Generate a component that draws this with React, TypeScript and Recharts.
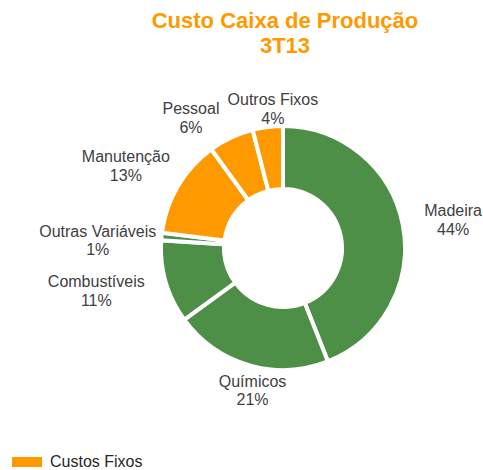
import React from "react";
import { PieChart, Pie, Cell, Legend } from "recharts";

const categories = ["Madeira", "Químicos", "Combustíveis", "Outras Variáveis", "Manutenção", "Pessoal", "Outros Fixos"];
const shares = [44, 21, 11, 1, 13, 6, 4];
const groups = ["var", "var", "var", "var", "fix", "fix", "fix"];
const titleLines = ["Custo Caixa de Produção", "3T13"];
const legendLabel = "Custos Fixos";

// small per-label nudges (px) on top of the automatic outside placement
const labelNudge: [number, number][] = [
  [13, 1.5],
  [13, -7],
  [-14, -7.5],
  [2, 10],
  [-6, 7],
  [-25, 12],
  [9, 12],
];

const GREEN = "#4E8F48";
const ORANGE = "#FF9900";
const TEXT = "#404040";
const FONT = "'Liberation Sans', Arial, sans-serif";
const LABEL_SIZE = 16;

const data = categories.map((name, i) => ({ name, value: shares[i], group: groups[i] }));

let ctx: CanvasRenderingContext2D | null = null;
function measure(t: string): number {
  if (!ctx) ctx = document.createElement("canvas").getContext("2d");
  if (!ctx) return t.length * LABEL_SIZE * 0.5;
  ctx.font = `${LABEL_SIZE}px 'Liberation Sans'`;
  return ctx.measureText(t).width;
}

const RAD = Math.PI / 180;
const renderLabel = (props: any) => {
  const { cx, cy, midAngle, name, value, index } = props;
  const R = 120;
  const gap = 8;
  const l1 = String(name);
  const l2 = `${value}%`;
  const hw = Math.max(measure(l1), measure(l2)) / 2;
  const hh = 19;
  const c = Math.cos(-midAngle * RAD);
  const s = Math.sin(-midAngle * RAD);
  const d = R + gap + Math.abs(c) * hw + Math.abs(s) * hh;
  const [nx, ny] = labelNudge[index] || [0, 0];
  const x = cx + d * c + nx;
  const y = cy + d * s + ny;
  return (
    <text x={x} y={y} textAnchor="middle" fill={TEXT} fontSize={LABEL_SIZE} fontFamily={FONT}>
      <tspan x={x} dy={-3.5}>{l1}</tspan>
      <tspan x={x} dy={18.5}>{l2}</tspan>
    </text>
  );
};

const renderLegend = () => (
  <div style={{ display: "flex", alignItems: "center", fontFamily: FONT, fontSize: 16, color: "#262626" }}>
    <span style={{ display: "inline-block", width: 30, height: 10, background: ORANGE, marginRight: 8 }} />
    <span>{legendLabel}</span>
  </div>
);

export default function App() {
  return (
    <div style={{ position: "absolute", left: 0, top: 0, width: 483, height: 470, background: "#fff" }}>
      <div
        style={{
          position: "absolute",
          left: 0,
          width: 570,
          top: 8,
          textAlign: "center",
          color: ORANGE,
          fontFamily: FONT,
          fontWeight: "bold",
          fontSize: 22,
          lineHeight: "25px",
        }}
      >
        {titleLines.map((t) => (
          <div key={t}>{t}</div>
        ))}
      </div>
      <PieChart
        width={483}
        height={470}
        margin={{ top: 0, right: 0, bottom: 0, left: 0 }}
        style={{ position: "absolute", left: 0, top: 0 }}
      >
        <Pie
          data={data}
          dataKey="value"
          nameKey="name"
          cx={283}
          cy={248}
          startAngle={90}
          endAngle={-270}
          innerRadius={59}
          outerRadius={122}
          stroke="#fff"
          strokeWidth={4}
          label={renderLabel}
          labelLine={false}
          isAnimationActive={false}
        >
          {data.map((d) => (
            <Cell key={d.name} fill={d.group === "fix" ? ORANGE : GREEN} />
          ))}
        </Pie>
        <Legend
          content={renderLegend}
          wrapperStyle={{ position: "absolute", left: 12, top: 453, width: 200 }}
        />
      </PieChart>
    </div>
  );
}
